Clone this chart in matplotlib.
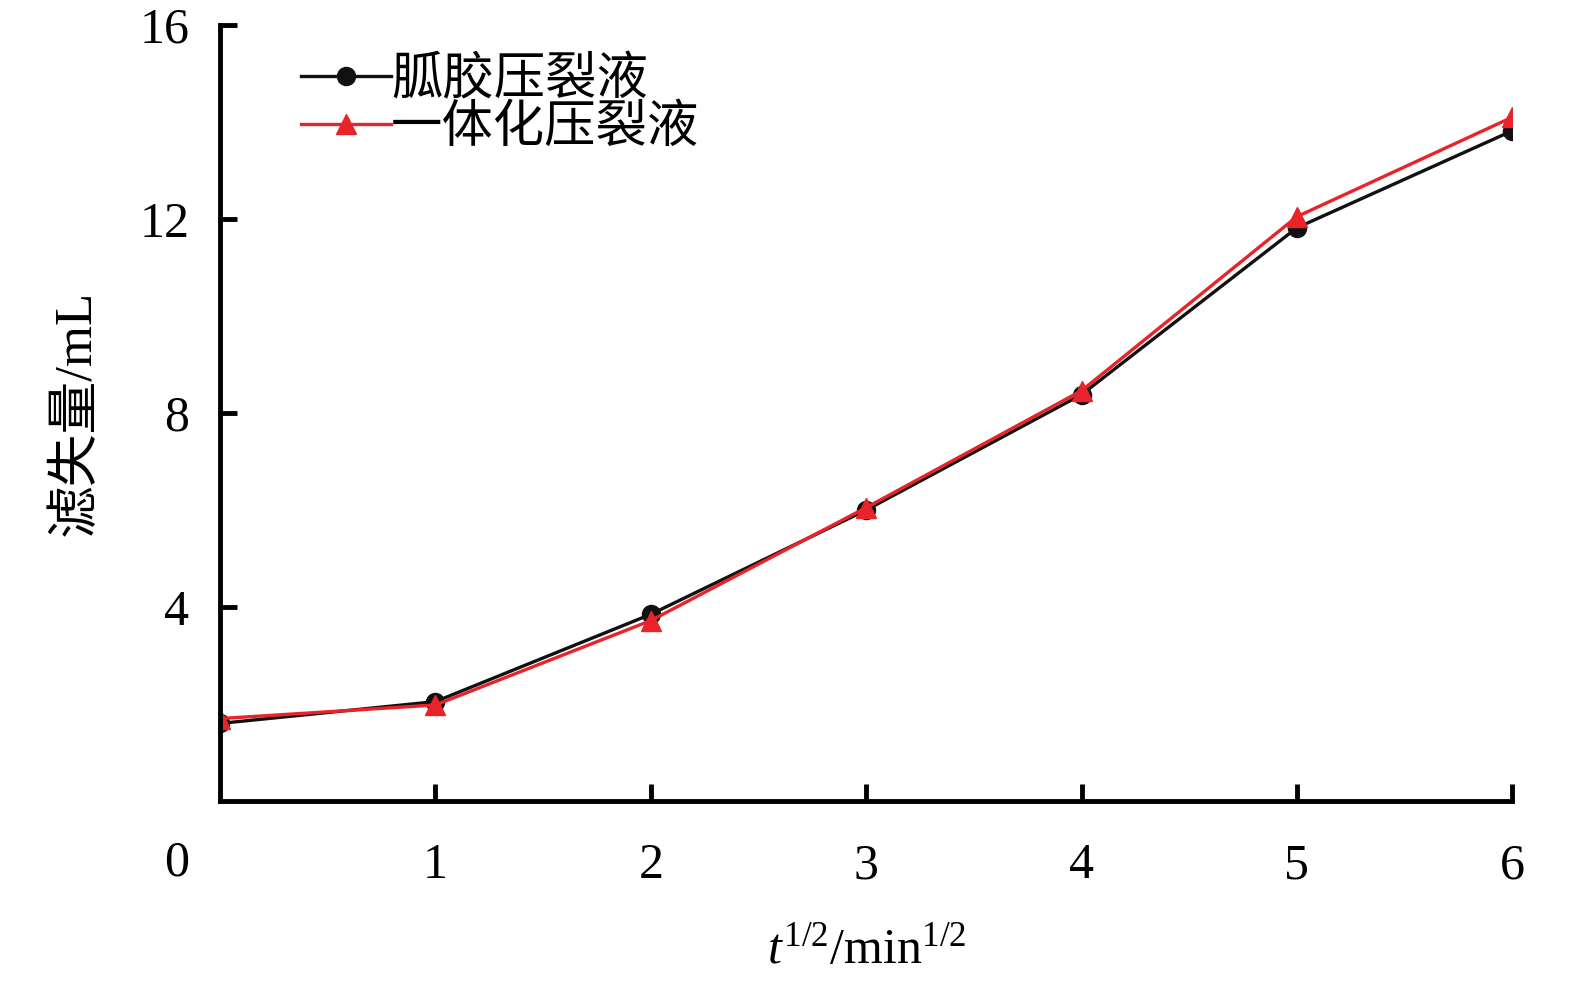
import matplotlib
matplotlib.use("Agg")
import matplotlib.pyplot as plt

x_vals = [0, 1, 2, 3, 4, 5, 6]
guar = [1.6, 2.05, 3.85, 6.0, 8.38, 11.82, 13.82]
integ = [1.7, 1.98, 3.72, 6.05, 8.46, 12.05, 14.1]
labels = ["胍胶压裂液", "一体化压裂液"]
xticks = [1, 2, 3, 4, 5, 6]
yticks = [4, 8, 12, 16]

plt.rcParams['font.family'] = ['Liberation Serif', 'Noto Sans CJK SC']
plt.rcParams['mathtext.fontset'] = 'custom'
plt.rcParams['mathtext.rm'] = 'Liberation Serif'
plt.rcParams['mathtext.it'] = 'Liberation Serif:italic'

fig = plt.figure(figsize=(15.75, 9.86), dpi=100)
ax = fig.add_axes([0.1397, 0.1876, 0.8205, 0.787])

ax.plot(x_vals, guar, color='#111111', lw=2.4, marker='o', ms=13, label=labels[0])
ax.plot(x_vals, integ, color='#e8232a', lw=2.4, marker='^', ms=15, label=labels[1])

ax.set_xlim(0, 6)
ax.set_ylim(0, 16)
ax.set_xticks(xticks)
ax.set_yticks(yticks)
ax.spines['top'].set_visible(False)
ax.spines['right'].set_visible(False)
for s in ['left', 'bottom']:
    ax.spines[s].set_linewidth(3.5)
ax.tick_params(axis='both', direction='in', length=12, width=3.5, labelsize=36)
ax.tick_params(axis='x', pad=30)
ax.tick_params(axis='y', pad=22)

ax.text(-0.2, -0.8, '0', fontsize=36, ha='center', va='top', transform=ax.transData, clip_on=False)

ax.set_xlabel(r'$t^{1/2}$/min$^{1/2}$', fontsize=36, labelpad=28)
ax.set_ylabel('滤失量/mL', fontsize=38, labelpad=28)

leg = ax.legend(loc='upper left', bbox_to_anchor=(0.035, 1.005), frameon=False, fontsize=37,
                handlelength=1.75, handletextpad=0.0, labelspacing=0.0, borderpad=0.2)

fig.savefig('out.png', dpi=100)
